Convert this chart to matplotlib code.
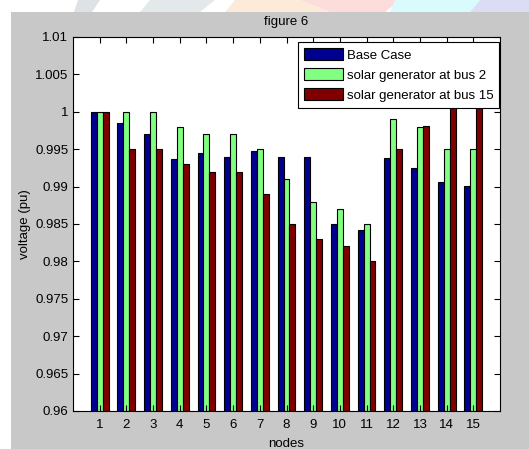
import numpy as np
import matplotlib.pyplot as plt
from matplotlib.patches import Rectangle, Polygon

plt.rcParams["font.family"] = ["Liberation Sans", "DejaVu Sans"]
plt.rcParams["font.size"] = 9

nodes = np.arange(1, 16)
base_case = [1.0, 0.9985, 0.997, 0.9937, 0.9945, 0.994, 0.9948, 0.9939,
             0.9939, 0.985, 0.9842, 0.9938, 0.9925, 0.9906, 0.9901]
solar_bus2 = [1.0, 1.0, 1.0, 0.998, 0.997, 0.997, 0.995, 0.991,
              0.988, 0.987, 0.985, 0.999, 0.998, 0.995, 0.995]
solar_bus15 = [1.0, 0.995, 0.995, 0.993, 0.992, 0.992, 0.989, 0.985,
               0.983, 0.982, 0.98, 0.995, 0.9981, 1.001, 1.001]
series_labels = ["Base Case", "solar generator at bus 2", "solar generator at bus 15"]
colors = ["#000090", "#80FF80", "#800000"]

W, H = 529, 449
fig = plt.figure(figsize=(W / 100, H / 100), dpi=100, facecolor="white")

# grey figure panel with a white strip on the left and top
fig.patches.append(Rectangle((11 / W, 0), 1 - 11 / W, 1 - 12 / H,
                             transform=fig.transFigure, facecolor="#C8C8C8",
                             edgecolor="none", zorder=-10))
# faint coloured shapes in the top strip
for pts, c in [
    ([(78, 0), (100, 0), (92, 12), (74, 12)], "#DCE2E6"),
    ([(150, 0), (215, 0), (200, 12), (140, 12)], "#E3E8EA"),
    ([(235, 0), (300, 0), (330, 12), (225, 12)], "#FCEBD9"),
    ([(300, 0), (400, 0), (385, 12), (330, 12)], "#FDDCDC"),
    ([(395, 0), (480, 0), (470, 12), (390, 12)], "#D9FBFD"),
    ([(480, 0), (529, 0), (529, 12), (470, 12)], "#DCDDF4"),
]:
    fig.patches.append(Polygon([(x / W, 1 - y / H) for x, y in pts], closed=True,
                               transform=fig.transFigure, facecolor=c,
                               edgecolor="none", zorder=-11))

ax = fig.add_axes([73 / W, 1 - 411 / H, (500 - 73) / W, (411 - 37) / H])

width = 0.222
for i, (vals, lab, c) in enumerate(zip([base_case, solar_bus2, solar_bus15],
                                      series_labels, colors)):
    ax.bar(nodes + (i - 1) * width, vals, width, color=c, edgecolor="black",
           linewidth=0.8, label=lab)

ax.set_xlim(0, 16)
ax.set_ylim(0.96, 1.01)
ax.set_xticks(nodes)
ax.set_yticks(np.arange(0.96, 1.0101, 0.005))
ax.set_yticklabels(["0.96", "0.965", "0.97", "0.975", "0.98", "0.985",
                    "0.99", "0.995", "1", "1.005", "1.01"])
ax.tick_params(direction="in", top=True, right=True, length=4, labelsize=9.5)
ax.tick_params(axis="x", pad=6)
for s in ax.spines.values():
    s.set_linewidth(0.8)

ax.set_title("figure 6", fontsize=9.5, pad=9)
ax.set_xlabel("nodes", fontsize=9.5, labelpad=5)
ax.set_ylabel("voltage (pu)", fontsize=9.5, labelpad=3)

leg = ax.legend(loc="upper right", bbox_to_anchor=(0.998, 0.986), fontsize=9.5,
                fancybox=False, framealpha=1, edgecolor="black",
                handlelength=3.0, handleheight=1.0, handletextpad=0.25,
                labelspacing=0.5, borderpad=0.45, borderaxespad=0)
leg.get_frame().set_linewidth(0.8)
leg.set_zorder(5)

fig.savefig("out.png", dpi=100)
